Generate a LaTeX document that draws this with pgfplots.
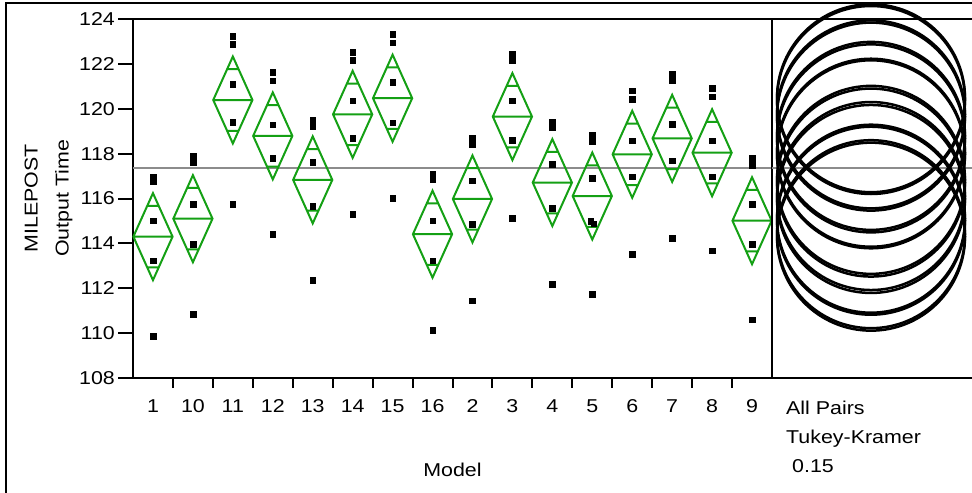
\documentclass[border=0pt]{standalone}
\usepackage{fontspec}
\setmainfont{Liberation Sans}[FakeStretch=1.15]
\usepackage{pgfplots}
\pgfplotsset{compat=1.18}
\usepackage{pgfplotstable}
\definecolor{jgreen}{RGB}{20,160,20}
\definecolor{jgray}{RGB}{140,140,140}

% means diamond: 95% CI half-height 1.94 units (43.5bp), width of one category
\pgfdeclareplotmark{meandiamond}{%
  \pgfpathmoveto{\pgfqpoint{-19.6bp}{0bp}}%
  \pgfpathlineto{\pgfqpoint{0bp}{43.5bp}}%
  \pgfpathlineto{\pgfqpoint{19.6bp}{0bp}}%
  \pgfpathlineto{\pgfqpoint{0bp}{-43.5bp}}%
  \pgfpathclose
  \pgfpathmoveto{\pgfqpoint{-19.6bp}{0bp}}\pgfpathlineto{\pgfqpoint{19.6bp}{0bp}}%
  \pgfpathmoveto{\pgfqpoint{-5.74bp}{30.76bp}}\pgfpathlineto{\pgfqpoint{5.74bp}{30.76bp}}%
  \pgfpathmoveto{\pgfqpoint{-5.74bp}{-30.76bp}}\pgfpathlineto{\pgfqpoint{5.74bp}{-30.76bp}}%
  \pgfusepathqstroke
}

\pgfplotstableread{
x model mean
0 1 114.30
1 10 115.10
2 11 120.39
3 12 118.79
4 13 116.83
5 14 119.75
6 15 120.47
7 16 114.41
8 2 115.98
9 3 119.65
10 4 116.71
11 5 116.11
12 6 117.97
13 7 118.68
14 8 118.04
15 9 115.01
}\means

\pgfplotstableread{
x y
0 116.97
0 116.75
0 115.01
0 113.23
0 109.86
1 117.91
1 117.61
1 115.74
1 113.96
1 110.84
2 123.24
2 122.87
2 121.09
2 119.40
2 115.74
3 121.62
3 121.25
3 119.29
3 117.79
3 114.41
4 119.50
4 119.20
4 117.61
4 115.67
4 112.37
5 122.52
5 122.17
5 120.36
5 118.68
5 115.30
6 123.33
6 122.94
6 121.18
6 119.38
6 116.01
7 117.09
7 116.83
7 115.01
7 113.23
7 110.13
8 118.71
8 118.42
8 116.79
8 114.85
8 111.45
9 122.44
9 122.14
9 120.36
9 118.61
9 115.12
10 119.42
10 119.16
10 117.53
10 115.56
10 112.18
11 118.83
11 118.53
11 116.90
10.96 115.00
11.04 114.88
11 111.73
12 120.80
12 120.43
12 118.58
12 116.97
12 113.53
13 121.55
13 121.28
13 119.31
13 117.69
13 114.23
14 120.91
14 120.54
14 118.58
14 116.97
14 113.67
15 117.79
15 117.49
15 115.74
15 113.96
15 110.59
}\pts

\begin{document}
\fontsize{18.6bp}{22bp}\selectfont
\begin{tikzpicture}
\useasboundingbox (0,0) rectangle (972bp,-493bp);
\draw[line width=1.5bp] (6bp,-493bp) -- (6bp,-3bp) -- (980bp,-3bp);
\begin{axis}[
  at={(133bp,-378bp)}, anchor=south west, scale only axis,
  width=639bp, height=359bp,
  xmin=-0.5, xmax=15.5, ymin=108, ymax=124,
  xtick={0,...,15},
  xticklabels={1,10,11,12,13,14,15,16,2,3,4,5,6,7,8,9},
  minor xtick={0.5,1.5,...,14.5},
  ytick={108,110,...,124},
  tick align=outside, tick pos=left,
  major tick length=15bp, minor tick length=10bp,
  major x tick style={draw=none},
  every tick/.append style={black, line width=2bp},
  axis line style={line width=2bp},
  /pgf/number format/assume math mode=true,
  yticklabel style={inner sep=0pt, xshift=-3bp},
  xticklabel style={inner sep=0pt, yshift=-6bp},
  xlabel={Model},
  xlabel style={at={(axis description cs:0.5,-0.273)}, anchor=base},
  ylabel={MILEPOST\\Output Time},
  ylabel style={at={(axis description cs:-0.1322,0.5)}, anchor=center,
    align=center, font=\fontsize{18.6bp}{31bp}\selectfont},
]
\addplot[jgray, line width=2bp] coordinates {(-0.5,117.35) (15.5,117.35)};
\addplot[only marks, mark=meandiamond, jgreen, line width=2bp]
  table[x=x, y=mean] {\means};
\addplot[only marks, mark=square*, mark size=2.8bp, black,
  mark options={line width=0.4bp}] table[x=x, y=y] {\pts};
\end{axis}
\begin{axis}[
  at={(772bp,-378bp)}, anchor=south west, scale only axis,
  width=215bp, height=359bp,
  xmin=0, xmax=215, ymin=108, ymax=124,
  xtick=\empty, ytick=\empty,
  axis line style={line width=2bp},
  clip=false,
]
\addplot[jgray, line width=2bp] coordinates {(0,117.35) (215,117.35)};
\addplot[only marks, mark=o, mark size=94bp, black, line width=2.5bp]
  table[x expr=99, y=mean] {\means};
\end{axis}
\node[anchor=base west, inner sep=0pt] at (786bp,-414bp) {All Pairs};
\node[anchor=base west, inner sep=0pt] at (786bp,-443bp) {Tukey-Kramer};
\node[anchor=base west, inner sep=0pt] at (792bp,-472bp) {0.15};
\end{tikzpicture}
\end{document}
